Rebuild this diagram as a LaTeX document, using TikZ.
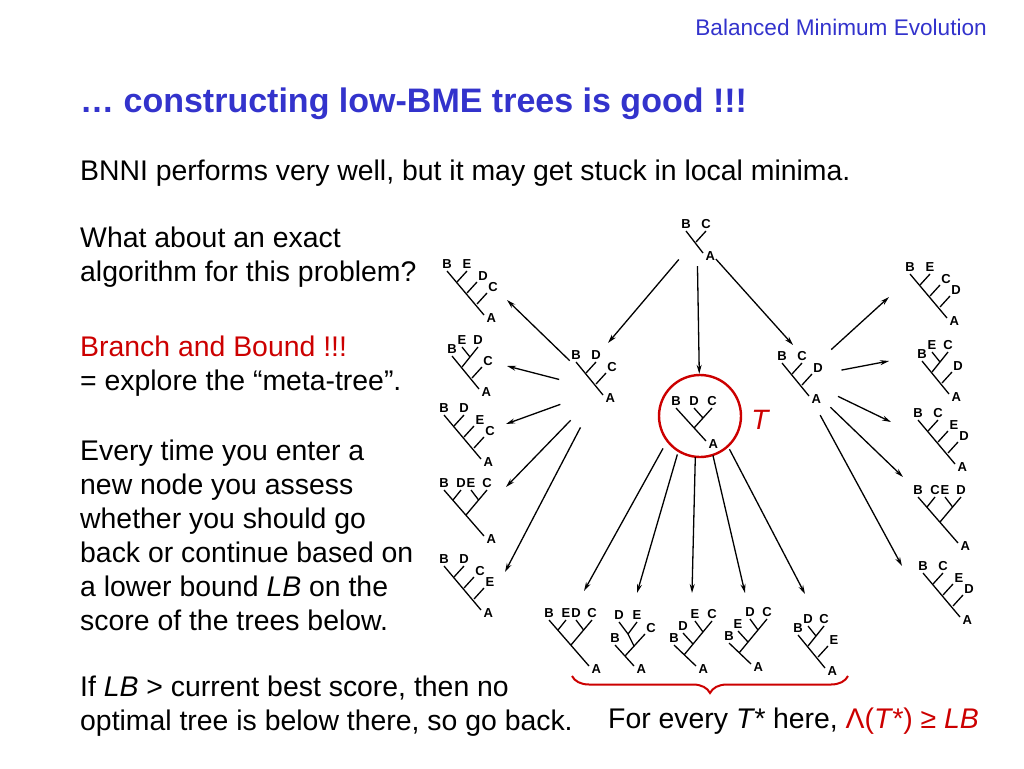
\documentclass[tikz,border=0pt]{standalone}
\usepackage{fontspec}
\setmainfont{Liberation Sans}
\usepackage{tikz}
\usetikzlibrary{arrows.meta,decorations.pathreplacing}
\definecolor{tblue}{RGB}{51,51,204}
\definecolor{bbred}{RGB}{204,0,0}
\tikzset{
  >={Stealth[length=9pt,width=5pt]},
  txt/.style={font=\fontsize{28.4}{34}\selectfont, align=left, inner sep=0pt, anchor=base west},
  lbl/.style={font=\fontsize{13}{13}\selectfont\bfseries, inner sep=2pt},
  twig/.style={line width=1.3pt},
  hub/.style={circle, inner sep=0pt},
  ring/.style={circle, draw=bbred, line width=2.4pt, minimum size=82pt, inner sep=0pt},
  flow/.style={->, line width=1.3pt},
  % caterpillar: first leaf, number of side leaves, side leaves
  pics/cat/.style n args={3}{code={
    \draw[twig] (0,0) node[lbl, above] {#1} -- ({#2*10+7},{#2*11+11}) node[lbl, anchor=west, yshift=-3pt] {A};
    \foreach \lab [count=\k] in {#3}
      \draw[twig] (\k*10,\k*11) -- ++(10,-11) node[lbl, above, xshift={(\k>1)*6pt}, yshift={(\k>1)*(-1pt)}] {\lab};
  }},
  % first side branch carries a hanging leaf
  pics/hang/.style n args={4}{code={
    \draw[twig] (0,0) node[lbl, above] {#1} -- (27,33) node[lbl, anchor=west, yshift=-3pt] {A};
    \draw[twig] (10,11) -- (26,-9) node[lbl, above] {#3};
    \draw[twig] (18,1) -- (10,-9) node[lbl, above] {#2};
    \draw[twig] (20,22) -- (30,11) node[lbl, above, xshift=6pt, yshift=-1pt] {#4};
  }},
  pics/cher/.style n args={3}{code={
    \draw[twig] (0,0) node[lbl, above] {#1} -- (30,33) node[lbl, anchor=west, yshift=-3pt] {A};
    \draw[twig] (18,20) -- (36,0) node[lbl, above] {#3};
    \draw[twig] (27,10) -- (18,0) node[lbl, above] {#2};
  }},
  pics/bal/.style n args={4}{code={
    \draw[twig] (0,0) node[lbl, above] {#1} -- (40,46) node[lbl, anchor=west, yshift=-3pt] {A};
    \draw[twig] (9,10) -- (17,0) node[lbl, above] {#2};
    \draw[twig] (22,25) -- (43,0) node[lbl, above] {#4};
    \draw[twig] (34.6,10) -- (27,0) node[lbl, above] {#3};
  }},
  pics/deep/.style n args={4}{code={
    \draw[twig] (0,0) node[lbl, above] {#1} -- (22,21) node[lbl, anchor=west, yshift=-3pt] {A};
    \draw[twig] (10,10) -- (38,-24) node[lbl, above] {#4};
    \draw[twig] (19,-1) -- (9,-12) node[lbl, above] {#2};
    \draw[twig] (29,-13) -- (21,-24) node[lbl, above] {#3};
  }},
  pics/nest/.style n args={4}{code={
    \draw[twig] (0,0) node[lbl, above] {#1} -- (19,21) node[lbl, anchor=west, yshift=-3pt] {A};
    \draw[twig] (10,11) -- (30,-11) node[lbl, above, xshift=6pt, yshift=-1pt] {#4};
    \draw[twig] (19,1) -- (13,-11) -- (4,-23) node[lbl, above] {#2};
    \draw[twig] (13,-11) -- (22,-23) node[lbl, above] {#3};
  }},
}

\begin{document}
\begin{tikzpicture}[x=1pt, y=-1pt]
  \useasboundingbox (0,0) rectangle (1024,768);

  % slide text (base = last line)
  \node[txt, font=\fontsize{22.6}{26}\selectfont, text=tblue, anchor=base east] (hdr) at (987,36) {Balanced Minimum Evolution};
  \node[txt, font=\fontsize{34}{40}\selectfont\bfseries, text=tblue] (ttl) at (80,112) {… constructing low-BME trees is good !!!};
  \node[txt] (sub) at (80,180) {BNNI performs very well, but it may get stuck in local minima.};
  \node[txt] (ask) at (80,281) {What about an exact\\algorithm for this problem?};
  \node[txt] (bnb) at (80,390) {{\color{bbred}Branch and Bound !!!}\\= explore the “meta-tree”.};
  \node[txt] (every) at (80,630) {Every time you enter a\\new node you assess\\whether you should go\\back or continue based on\\a lower bound \textit{LB} on the\\score of the trees below.};
  \node[txt] (back) at (80,730) {If \textit{LB} > current best score, then no\\optimal tree is below there, so go back.};
  \node[txt] (star) at (608,728) {For every \textit{T*} here, {\color{bbred}Λ(\textit{T*}) ≥ \textit{LB}}};

  % meta-tree
  \pic (root) at (686,231) {cat={B}{1}{C}};
  \pic (tl) at (576,362) {cat={B}{2}{D,C}};
  \pic (tm) at (676,408) {cher={B}{D}{C}};
  \pic (tr) at (782,363) {cat={B}{2}{C,D}};

  \pic (l1) at (447,271) {cat={B}{3}{E,D,C}};
  \pic (l2) at (452,356) {hang={B}{E}{D}{C}};
  \pic (l3) at (444,415) {cat={B}{3}{D,E,C}};
  \pic (l4) at (444,490) {bal={B}{D}{E}{C}};
  \pic (l5) at (444,566) {cat={B}{3}{D,C,E}};

  \pic (r1) at (910,274) {cat={B}{3}{E,C,D}};
  \pic (r2) at (922,361) {hang={B}{E}{C}{D}};
  \pic (r3) at (918,420) {cat={B}{3}{C,E,D}};
  \pic (r4) at (918,497) {bal={B}{C}{E}{D}};
  \pic (r5) at (923,573) {cat={B}{3}{C,E,D}};

  \pic (b1) at (549,620) {bal={B}{E}{D}{C}};
  \pic (b2) at (615,645) {nest={B}{D}{E}{C}};
  \pic (b3) at (674,645) {deep={B}{D}{E}{C}};
  \pic (b4) at (729,643) {deep={B}{E}{D}{C}};
  \pic (b5) at (798,635) {hang={B}{D}{C}{E}};

  \node[ring] (tc) at (700,416) {};
  \node[font=\fontsize{28}{28}\selectfont\itshape, text=bbred] (tlab) at (760,420) {T};

  \node[hub, minimum size=56pt] (hr) at (697,238) {};
  \node[hub, minimum size=84pt] (hl) at (600,390) {};
  \node[hub, minimum size=84pt] (hrt) at (800,378) {};
  \node[hub, minimum size=140pt] (hm) at (697,387) {};

  \coordinate (in-l) at (608,343);
  \coordinate (in-r) at (793,345);
  \coordinate (in-l1) at (507,300);
  \coordinate (in-l2) at (507,366);
  \coordinate (in-l3) at (506,424);
  \coordinate (in-l4) at (506,487);
  \coordinate (in-l5) at (505,572);
  \coordinate (in-r1) at (889,297);
  \coordinate (in-r2) at (889,361);
  \coordinate (in-r3) at (891,422);
  \coordinate (in-r4) at (903,477);
  \coordinate (in-r5) at (902,566);
  \coordinate (in-b1) at (584,591);
  \coordinate (in-b2) at (637,593);
  \coordinate (in-b3) at (692,593);
  \coordinate (in-b4) at (745,593);
  \coordinate (in-b5) at (805,594);

  \draw[flow] (hr) -- (in-l);
  \draw[flow] (hr) -- (tc);
  \draw[flow] (hr) -- (in-r);
  \foreach \t in {l1,l2,l3,l4,l5}
    \draw[flow] (hl) -- (in-\t);
  \foreach \t in {r1,r2,r3,r4,r5}
    \draw[flow] (hrt) -- (in-\t);
  \foreach \t in {b1,b2,b3,b4,b5}
    \draw[flow] (hm) -- (in-\t);

  \draw[bbred, line width=2pt, decorate, decoration={brace, mirror, amplitude=17pt}] (572,676) -- (848,676);
\end{tikzpicture}
\end{document}
